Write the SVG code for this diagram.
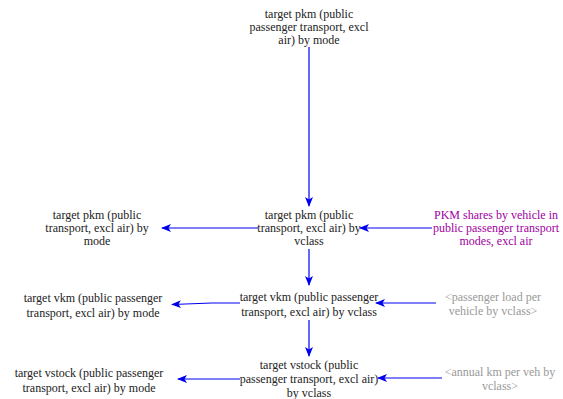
<svg xmlns="http://www.w3.org/2000/svg" width="563" height="399" viewBox="0 0 563 399">
  <style>
    text { font-family: "Liberation Serif", "DejaVu Serif", serif; font-size: 12px; text-anchor: middle; fill: #222; }
    .shadow { fill: #999; }
    .param { fill: #a000a0; }
    .link { stroke: #0000f0; stroke-width: 1.2; fill: none; marker-end: url(#arrow); }
  </style>
  <defs>
    <marker id="arrow" viewBox="0 0 10 8" refX="9" refY="4" markerWidth="10" markerHeight="8" markerUnits="userSpaceOnUse" orient="auto">
      <path d="M0,0 L10,4 L0,8 L2.5,4 Z" fill="#0000f0"/>
    </marker>
  </defs>

  <g id="connectors">
    <line class="link" x1="309" y1="47" x2="309" y2="206"/>
    <line class="link" x1="258" y1="228" x2="162" y2="228"/>
    <line class="link" x1="432" y1="228" x2="360" y2="228"/>
    <line class="link" x1="309" y1="249" x2="309" y2="285"/>
    <polyline class="link" points="240,303 212,303 172,304.5"/>
    <line class="link" x1="436" y1="303" x2="376" y2="303"/>
    <line class="link" x1="309" y1="320" x2="309" y2="356"/>
    <line class="link" x1="240" y1="379" x2="178" y2="379"/>
    <line class="link" x1="442" y1="378" x2="378" y2="378"/>
  </g>

  <g id="pkm-by-mode-top">
    <text x="309" y="18">target pkm (public</text>
    <text x="309" y="31">passenger transport, excl</text>
    <text x="309" y="44">air) by mode</text>
  </g>

  <g id="pkm-by-vclass">
    <text x="309" y="219">target pkm (public</text>
    <text x="309" y="232">transport, excl air) by</text>
    <text x="309" y="245">vclass</text>
  </g>

  <g id="pkm-by-mode-left">
    <text x="97" y="219">target pkm (public</text>
    <text x="97" y="232">transport, excl air) by</text>
    <text x="97" y="245">mode</text>
  </g>

  <g id="pkm-shares">
    <text class="param" x="496" y="219">PKM shares by vehicle in</text>
    <text class="param" x="496" y="232">public passenger transport</text>
    <text class="param" x="496" y="245">modes, excl air</text>
  </g>

  <g id="vkm-by-vclass">
    <text x="309" y="301">target vkm (public passenger</text>
    <text x="309" y="316">transport, excl air) by vclass</text>
  </g>

  <g id="vkm-by-mode">
    <text x="93" y="302">target vkm (public passenger</text>
    <text x="93" y="317">transport, excl air) by mode</text>
  </g>

  <g id="passenger-load">
    <text class="shadow" x="493" y="301">&lt;passenger load per</text>
    <text class="shadow" x="493" y="315">vehicle by vclass&gt;</text>
  </g>

  <g id="vstock-by-vclass">
    <text x="309" y="369">target vstock (public</text>
    <text x="309" y="383">passenger transport, excl air)</text>
    <text x="309" y="397">by vclass</text>
  </g>

  <g id="vstock-by-mode">
    <text x="89" y="377">target vstock (public passenger</text>
    <text x="89" y="392">transport, excl air) by mode</text>
  </g>

  <g id="annual-km">
    <text class="shadow" x="500" y="376">&lt;annual km per veh by</text>
    <text class="shadow" x="500" y="390">vclass&gt;</text>
  </g>
</svg>
